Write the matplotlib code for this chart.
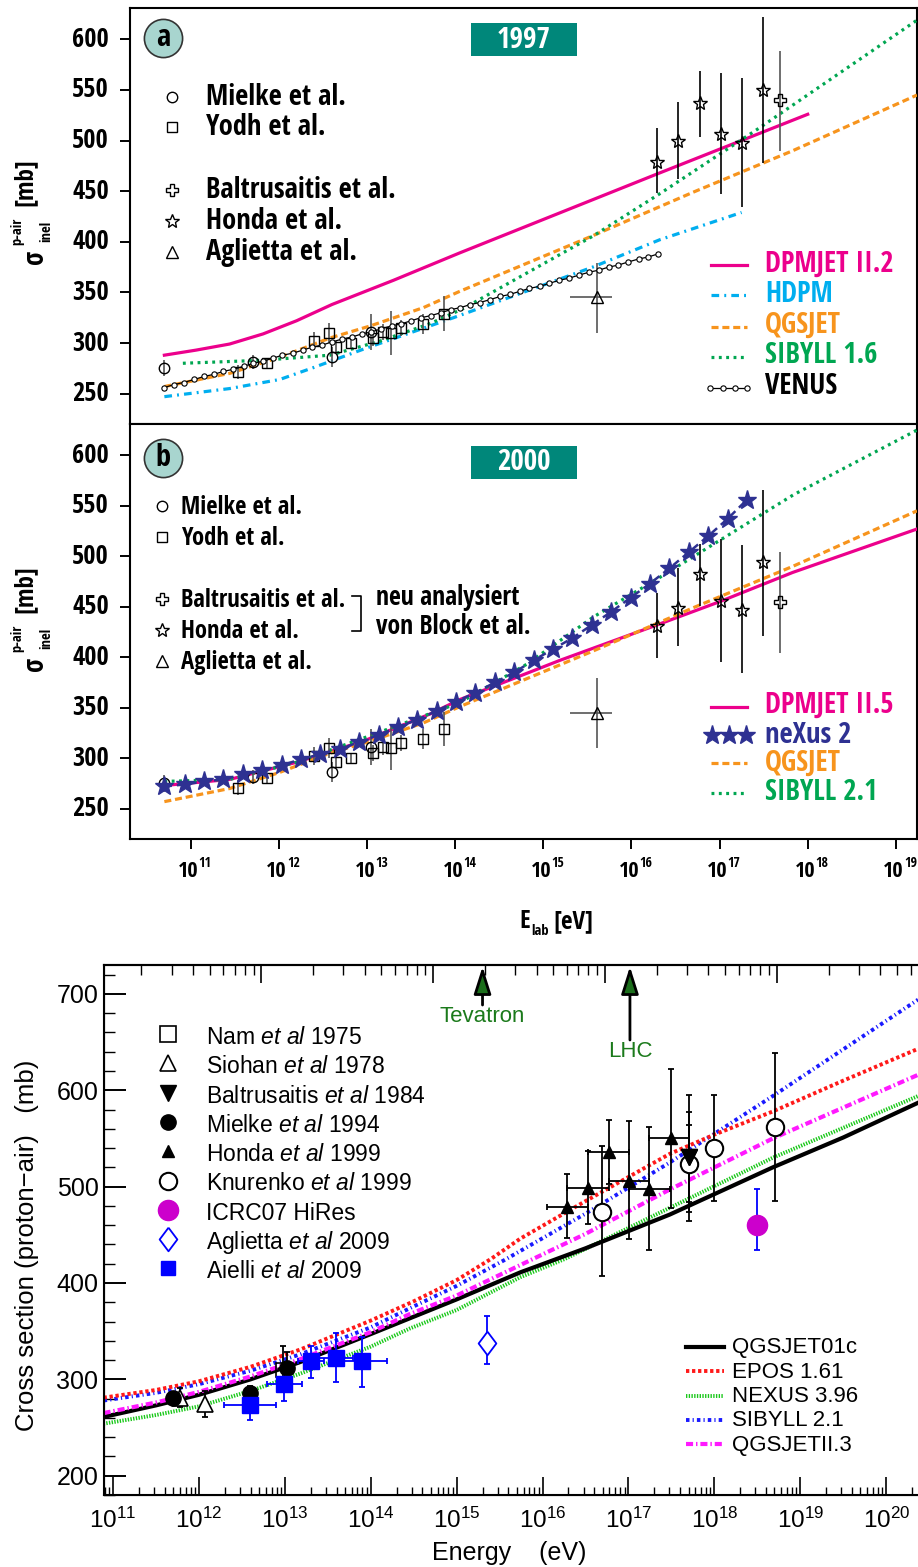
import matplotlib
matplotlib.use('Agg')
import matplotlib.pyplot as plt
import numpy as np
from matplotlib import font_manager
from matplotlib.font_manager import FontProperties
from matplotlib.ft2font import FT2Font
from matplotlib.lines import Line2D
from matplotlib.patches import Rectangle
from matplotlib.ticker import FixedLocator, NullLocator, NullFormatter
from matplotlib.transforms import offset_copy

names = {f.name for f in font_manager.fontManager.ttflist}
SANS = 'Liberation Sans' if 'Liberation Sans' in names else 'DejaVu Sans'

# The upper panels use a narrow bold sans.  Pick the installed bold sans face whose
# width-to-cap-height ratio is closest to a condensed grotesque.
R_TARGET = 7.7  # width of 'Baltrusaitis et al.' over cap height


def measure(fname):
    f = FT2Font(fname)
    if f.get_char_index(0x3c3) == 0 or f.get_char_index(ord('a')) == 0:
        return None
    f.set_size(100, 72)
    f.set_text('Baltrusaitis et al.')
    w = f.get_width_height()[0] / 64.0
    cap = f.load_char(ord('H')).height / 64.0
    if cap <= 0:
        return None
    return w / cap, cap / 100.0


best = None
for fe in font_manager.fontManager.ttflist:
    n = fe.name.lower()
    if fe.style != 'normal' or not fe.fname.lower().endswith(('.ttf', '.otf')):
        continue
    wt = fe.weight if isinstance(fe.weight, int) else font_manager.weight_dict.get(fe.weight, 400)
    if not 600 <= wt <= 800:
        continue
    if not any(k in n for k in ('sans', 'roboto', 'lato', 'inter', 'arial', 'helvet')):
        continue
    if any(k in n for k in ('mono', 'serif', 'cjk', 'symbol', 'math')):
        continue
    try:
        m = measure(fe.fname)
    except Exception:
        m = None
    if m is None:
        continue
    score = abs(np.log(m[0] / R_TARGET))
    if best is None or score < best[0]:
        best = (score, m[0], m[1], fe.fname)

if best is not None:
    CB = FontProperties(fname=best[3])
    CAP, WIDE = best[2], best[1] / R_TARGET
else:
    CB = FontProperties(family=SANS, weight='bold')
    CAP, WIDE = 0.72, 1.45

# shrink factors for labels that have to fit a given width
FIT_TIGHT = min(1.0, 1.04 / WIDE)
FIT_LOOSE = min(1.0, 1.22 / WIDE)


def cb(cap_px, k=1.0):
    # bold narrow font with a given cap height in pixels (figure is drawn at 100 dpi)
    fp = CB.copy()
    fp.set_size(cap_px / CAP * 0.72 * k)
    return fp


plt.rcParams['font.family'] = [SANS, 'DejaVu Sans']
plt.rcParams['mathtext.fontset'] = 'custom'
plt.rcParams['mathtext.rm'] = SANS
plt.rcParams['mathtext.it'] = SANS + ':italic'
plt.rcParams['mathtext.bf'] = SANS + ':bold'

# ------------------------------------------------------------------
# upper panels (a: 1997, b: 2000) -- energies as log10(E_lab / eV)
# ------------------------------------------------------------------
top_decades = [11, 12, 13, 14, 15, 16, 17, 18, 19]
top_yticks = [250, 300, 350, 400, 450, 500, 550, 600]

mielke_lgE = [10.70, 11.70, 12.60, 13.04]
mielke_xs = [275, 281, 286, 311]
mielke_err = [8, 7, 10, 18]

yodh_lgE = [11.53, 11.87, 12.40, 12.57, 12.65, 12.82, 13.07, 13.18, 13.27, 13.38, 13.63, 13.87]
yodh_xs = [271, 280, 302, 310, 296, 300, 305, 311, 310, 315, 319, 329]
yodh_err = [7, 5, 9, 10, 6, 5, 8, 8, 22, 8, 10, 17]

honda_lgE = [16.29, 16.53, 16.78, 17.02, 17.25, 17.49]
honda_a_xs = [479, 500, 537, 507, 498, 550]
honda_a_lo = [448, 462, 504, 447, 434, 478]
honda_a_hi = [512, 538, 569, 567, 562, 622]
honda_b_xs = [431, 449, 482, 456, 447, 494]
honda_b_lo = [399, 411, 451, 395, 384, 421]
honda_b_hi = [464, 488, 512, 517, 511, 566]

balt_lgE = [17.69]
balt_a_xs, balt_a_lo, balt_a_hi = [540], [490], [589]
balt_b_xs, balt_b_lo, balt_b_hi = [455], [404], [504]

agl_lgE = [15.61]
agl_xs, agl_lo, agl_hi = [345], [310], [379]
agl_xlo, agl_xhi = [15.30], [15.78]

dpmjet22_lgE = [10.70, 11.06, 11.44, 11.82, 12.20, 12.60, 13.30, 14.05, 16.29, 18.00]
dpmjet22_xs = [288, 293, 299, 309, 322, 338, 362, 389, 467, 526]

hdpm_lgE = [10.70, 11.44, 12.01, 12.40, 12.96, 13.52, 13.98, 15.56, 16.32, 17.25]
hdpm_xs = [247, 255, 264, 276, 294, 311, 325, 375, 402, 429]

qgsjet_lgE = [10.70, 11.44, 12.01, 12.58, 13.04, 13.64, 14.05, 15.56, 16.70, 17.83, 19.24]
qgsjet_xs = [257, 270, 286, 305, 317, 335, 351, 406, 449, 490, 545]

sibyll16_lgE = [10.91, 11.82, 12.58, 13.15, 13.71, 14.09, 15.57, 16.33, 17.46, 19.24]
sibyll16_xs = [280, 283, 288, 302, 319, 334, 406, 448, 513, 619]

venus_lgE = [10.70, 10.81, 10.92, 11.04, 11.15, 11.26, 11.37, 11.48, 11.60, 11.71,
             11.82, 11.93, 12.04, 12.16, 12.27, 12.38, 12.49, 12.60, 12.72, 12.83,
             12.94, 13.05, 13.16, 13.28, 13.39, 13.50, 13.61, 13.72, 13.84, 13.95,
             14.06, 14.17, 14.28, 14.40, 14.51, 14.62, 14.73, 14.84, 14.96, 15.07,
             15.18, 15.29, 15.40, 15.52, 15.63, 15.74, 15.85, 15.96, 16.08, 16.19, 16.30]
venus_xs = [256, 259, 261, 264, 267, 269, 272, 274, 277, 280,
            282, 285, 288, 290, 293, 296, 298, 301, 304, 306,
            309, 311, 314, 317, 319, 322, 325, 327, 330, 333,
            335, 338, 340, 343, 346, 348, 351, 354, 356, 359,
            362, 364, 367, 370, 372, 375, 377, 380, 383, 385, 388]

dpmjet25_lgE = [10.70, 11.44, 12.20, 12.96, 13.72, 14.05, 15.19, 16.29, 17.00, 17.83, 19.24]
dpmjet25_xs = [273, 279, 296, 317, 344, 358, 397, 432, 455, 484, 527]

sibyll21_lgE = [10.70, 11.44, 12.20, 12.96, 13.71, 14.05, 14.81, 15.57, 16.32, 17.08, 17.84, 19.24]
sibyll21_xs = [277, 279, 296, 320, 344, 355, 393, 440, 479, 520, 561, 625]

nexus2_lgE = [10.70, 10.93, 11.15, 11.37, 11.59, 11.81, 12.03, 12.25, 12.47, 12.69,
              12.91, 13.13, 13.35, 13.57, 13.79, 14.01, 14.23, 14.45, 14.67, 14.89,
              15.11, 15.33, 15.55, 15.77, 15.99, 16.21, 16.43, 16.65, 16.87, 17.09, 17.31]
nexus2_xs = [272, 274, 277, 279, 284, 288, 293, 299, 304, 309,
             316, 323, 331, 338, 347, 356, 365, 375, 385, 397,
             408, 419, 432, 445, 459, 473, 488, 504, 520, 537, 556]

# ------------------------------------------------------------------
# lower panel
# ------------------------------------------------------------------
bot_decades = [11, 12, 13, 14, 15, 16, 17, 18, 19, 20]
bot_yticks = [200, 300, 400, 500, 600, 700]

nam_lgE, nam_xs, nam_lo, nam_hi = [12.975], [310], [290], [335]
siohan_lgE, siohan_xs = [11.78, 12.07], [281, 274]
siohan_lo, siohan_hi = [271, 261], [291, 288]
balt84_lgE, balt84_xs = [17.70], [531]
balt84_lo_in, balt84_hi_in = [474], [577]
balt84_lo_out, balt84_hi_out = [464], [595]
mielke94_lgE, mielke94_xs = [11.695, 12.59, 13.03], [281, 286, 312]
mielke94_err = [5, 7, 16]
honda99_lgE = [16.28, 16.53, 16.77, 17.01, 17.24, 17.49]
honda99_xs = [479, 499, 536, 506, 498, 550]
honda99_lo = [447, 461, 503, 446, 434, 478]
honda99_hi = [513, 537, 569, 568, 562, 622]
honda99_xlo = [16.05, 16.28, 16.53, 16.77, 17.01, 17.24]
honda99_xhi = [16.53, 16.77, 17.01, 17.24, 17.48, 17.70]
knur_lgE, knur_xs = [16.69, 17.70, 18.00, 18.71], [474, 524, 540, 562]
knur_lo, knur_hi = [407, 484, 485, 485], [542, 564, 595, 639]
hires_lgE, hires_xs, hires_lo, hires_hi = [18.50], [460], [434], [498]
agl09_lgE, agl09_xs, agl09_lo, agl09_hi = [15.35], [338], [316], [366]
aielli_lgE = [12.595, 12.99, 13.30, 13.596, 13.895]
aielli_xs = [273, 295, 319, 322, 319]
aielli_lo = [258, 278, 301, 297, 292]
aielli_hi = [288, 313, 335, 348, 344]
aielli_xlo = [12.29, 12.79, 13.15, 13.33, 13.60]
aielli_xhi = [12.90, 13.20, 13.45, 13.79, 14.19]

qgs01c_lgE = [10.89, 11.5, 12.0, 12.6, 13.18, 14.0, 15.0, 15.74, 16.5, 17.48, 18.68, 19.5, 20.37]
qgs01c_xs = [261, 273, 284, 300, 318, 347, 383, 411, 436, 471, 520, 551, 587]
epos_lgE = [10.89, 11.5, 12.0, 12.6, 13.18, 14.0, 14.5, 15.0, 15.4, 15.74, 16.5, 17.48, 18.0,
            18.68, 19.5, 20.37]
epos_xs = [281, 289, 298, 313, 331, 361, 381, 403, 425, 446, 485, 534, 554, 578, 610, 643]
nexus396_lgE = [10.89, 11.5, 12.0, 12.6, 13.18, 14.0, 14.46, 15.0, 15.74, 16.26, 17.48, 18.68,
                20.37]
nexus396_xs = [254, 263, 272, 288, 306, 334, 353, 372, 406, 425, 478, 530, 594]
sib21_lgE = [10.89, 11.5, 12.0, 12.6, 13.18, 14.0, 14.46, 15.0, 15.56, 16.5, 17.48, 18.68, 20.37]
sib21_xs = [278, 286, 295, 309, 326, 354, 374, 397, 424, 472, 525, 594, 694]
qgsII3_lgE = [10.89, 11.5, 12.0, 12.6, 13.18, 14.0, 14.46, 15.0, 15.82, 16.5, 17.48, 18.68, 20.37]
qgsII3_xs = [265, 276, 287, 303, 321, 349, 368, 387, 422, 451, 497, 550, 616]

tevatron_elab = 2.0e15
lhc_elab = 1.04e17
m_proton = 0.938  # GeV

MAG, CYAN, ORANGE, GREEN, NAVY = '#ec008c', '#00aeef', '#f7941d', '#00a651', '#2e3192'
TEAL, TEAL_LIGHT = '#00877a', '#a8d5cf'

W, H = 918, 1567


def fx(x):
    return x / W


def fy(y):
    return 1 - y / H


def E(lg):
    return 10.0 ** np.asarray(lg, dtype=float)


fig = plt.figure(figsize=(W / 100, H / 100), dpi=100)


def fig_line(xs, ys, **kw):
    fig.add_artist(Line2D([fx(v) for v in xs], [fy(v) for v in ys],
                          transform=fig.transFigure, **kw))


def ftext(x, y, s, **kw):
    return fig.text(fx(x), fy(y), s, **kw)


# ---------------- upper two panels ----------------
ax_a = fig.add_axes([fx(130), fy(424), (917 - 130) / W, (424 - 8) / H])
ax_b = fig.add_axes([fx(130), fy(839), (917 - 130) / W, (839 - 424) / H])

for ax in (ax_a, ax_b):
    ax.set_xscale('log')
    ax.set_xlim(10 ** 10.31, 10 ** 19.24)
    ax.set_ylim(220, 631)
    ax.xaxis.set_major_locator(FixedLocator(E(top_decades)))
    ax.xaxis.set_minor_locator(NullLocator())
    ax.xaxis.set_major_formatter(NullFormatter())
    ax.yaxis.set_major_locator(FixedLocator(top_yticks))
    ax.yaxis.set_major_formatter(NullFormatter())
    ax.tick_params(axis='y', direction='out', length=7.2, width=1.4)
    ax.tick_params(axis='x', direction='out', length=7.5, width=1.4)
    for sp in ax.spines.values():
        sp.set_linewidth(1.5)
    # y labels written as plain texts so the narrow face keeps its size
    for v in top_yticks:
        ax.text(-0.0267, v, str(v), transform=ax.get_yaxis_transform(), ha='right',
                va='center', fontproperties=cb(19), clip_on=False)

# decade labels under panel b, written as 10 with a raised exponent
base_tr = ax_b.get_xaxis_transform()
for d in top_decades:
    tr = offset_copy(base_tr, fig=fig, x=8, y=0, units='dots')
    ax_b.text(E(d), (839 - 877) / 415, '10', transform=tr, ha='right', va='baseline',
              fontproperties=cb(16), clip_on=False)
    ax_b.text(E(d), (839 - 867) / 415, str(d), transform=tr, ha='left', va='baseline',
              fontproperties=cb(10), clip_on=False)


def draw_points(ax, lg, xs, lo, hi, marker, ms, ecolor='#555555', xlo=None, xhi=None):
    x = E(lg)
    y = np.asarray(xs, dtype=float)
    yerr = [y - np.asarray(lo, dtype=float), np.asarray(hi, dtype=float) - y]
    xerr = None if xlo is None else [x - E(xlo), E(xhi) - x]
    ax.errorbar(x, y, yerr=yerr, xerr=xerr, fmt='none', ecolor=ecolor,
                elinewidth=1.2, capsize=0, zorder=5)
    ax.plot(x, y, ls='none', marker=marker, ms=ms, mfc='none', mec='black', mew=1.0, zorder=6)


def draw_common_data(ax, honda_xs, honda_lo, honda_hi, balt_xs, balt_lo, balt_hi):
    my = np.asarray(mielke_xs)
    draw_points(ax, mielke_lgE, my, my - mielke_err, my + mielke_err, 'o', 7.5)
    yy = np.asarray(yodh_xs)
    draw_points(ax, yodh_lgE, yy, yy - yodh_err, yy + yodh_err, 's', 7.5)
    draw_points(ax, honda_lgE, honda_xs, honda_lo, honda_hi, '*', 10, ecolor='black')
    draw_points(ax, balt_lgE, balt_xs, balt_lo, balt_hi, 'P', 8.5)
    draw_points(ax, agl_lgE, agl_xs, agl_lo, agl_hi, '^', 9, xlo=agl_xlo, xhi=agl_xhi)


HDPM_DASH = (2.4, 1.6, 0.6, 1.6)
QGS_DASH = (2.2, 1.2)
SIB_DOT = (0.9, 1.4)

# panel a: 1997 models
ax_a.plot(E(dpmjet22_lgE), dpmjet22_xs, color=MAG, lw=2.3, zorder=3)
ax_a.plot(E(hdpm_lgE), hdpm_xs, color=CYAN, lw=2.3, dashes=HDPM_DASH, zorder=3)
ax_a.plot(E(qgsjet_lgE), qgsjet_xs, color=ORANGE, lw=2.3, dashes=QGS_DASH, zorder=3)
ax_a.plot(E(sibyll16_lgE), sibyll16_xs, color=GREEN, lw=2.3, dashes=SIB_DOT, zorder=3)
ax_a.plot(E(venus_lgE), venus_xs, color='black', lw=0.9, marker='o', ms=3.8,
          mfc='white', mec='black', mew=0.8, zorder=7)
draw_common_data(ax_a, honda_a_xs, honda_a_lo, honda_a_hi, balt_a_xs, balt_a_lo, balt_a_hi)

# panel b: 2000 models
ax_b.plot(E(dpmjet25_lgE), dpmjet25_xs, color=MAG, lw=2.3, zorder=3)
ax_b.plot(E(qgsjet_lgE), qgsjet_xs, color=ORANGE, lw=2.3, dashes=QGS_DASH, zorder=3)
ax_b.plot(E(sibyll21_lgE), sibyll21_xs, color=GREEN, lw=2.3, dashes=SIB_DOT, zorder=3)
draw_common_data(ax_b, honda_b_xs, honda_b_lo, honda_b_hi, balt_b_xs, balt_b_lo, balt_b_hi)
ax_b.plot(E(nexus2_lgE), nexus2_xs, color=NAVY, lw=1.8, dashes=(3, 2), marker='*', ms=14,
          mfc=NAVY, mec=NAVY, zorder=8)

# panel badges, year boxes and y labels
for cy, letter, year, by in [(38, 'a', '1997', 23), (458, 'b', '2000', 446)]:
    fig_line([163], [cy], marker='o', ms=27.5, mfc=TEAL_LIGHT, mec='#333333', mew=1.2, ls='none')
    ftext(163, cy, letter, ha='center', va='center', fontproperties=cb(22))
    fig.add_artist(Rectangle((fx(471), fy(by + 33)), 106 / W, 33 / H, transform=fig.transFigure,
                             facecolor=TEAL, edgecolor='none'))
    ftext(524, by + 17, year, ha='center', va='center', color='white', fontproperties=cb(21))

for y0 in (257, 664):
    ftext(35, y0, '\u03c3', rotation=90, ha='center', va='center', fontproperties=cb(20))
    ftext(17, y0 - 26, 'p-air', rotation=90, ha='center', va='center', fontproperties=cb(10.5))
    ftext(46, y0 - 26, 'inel', rotation=90, ha='center', va='center', fontproperties=cb(10.5))
    ftext(25, y0 - 75, '[mb]', rotation=90, ha='center', va='center', fontproperties=cb(18))

ftext(530, 928, 'E', ha='right', va='baseline', fontproperties=cb(18))
ftext(531, 935, 'lab', ha='left', va='baseline', fontproperties=cb(10.5))
ftext(553, 928, '[eV]', ha='left', va='baseline', fontproperties=cb(18))

# data legends of the upper panels
data_keys = [('Mielke et al.', 'o', 7.5), ('Yodh et al.', 's', 7.5), (None, None, None),
             ('Baltrusaitis et al.', 'P', 8.5), ('Honda et al.', '*', 10), ('Aglietta et al.', '^', 9)]
for mx, tx, rows, fit in [(172, 206, [97, 127, None, 190, 221, 252], FIT_LOOSE),
                          (162, 181, [506, 537, None, 599, 630, 661], FIT_TIGHT)]:
    for (label, mk, ms), ry in zip(data_keys, rows):
        if label is None:
            continue
        fig_line([mx], [ry], marker=mk, ms=ms, mfc='none', mec='black', mew=1.0, ls='none')
        ftext(tx, ry + 8, label, va='baseline', fontproperties=cb(20.5, fit))

fig_line([352, 361, 361, 352], [596, 596, 631, 631], color='black', lw=1.2)
ftext(376, 605, 'neu analysiert', va='baseline', fontproperties=cb(18.5, FIT_LOOSE))
ftext(376, 634, 'von Block et al.', va='baseline', fontproperties=cb(18.5, FIT_LOOSE))

# model legends of the upper panels
fig_line([711, 747], [265, 265], color=MAG, lw=2.3)
fig_line([711, 747], [295, 295], color=CYAN, lw=2.3, dashes=HDPM_DASH)
fig_line([711, 747], [327, 327], color=ORANGE, lw=2.3, dashes=QGS_DASH)
fig_line([711, 747], [357, 357], color=GREEN, lw=2.3, dashes=SIB_DOT)
fig_line([710, 723, 735, 747], [388] * 4, color='black', lw=0.9, marker='o', ms=3.8,
         mfc='white', mec='black', mew=0.8)
for label, color, base in [('DPMJET II.2', MAG, 272), ('HDPM', CYAN, 302), ('QGSJET', ORANGE, 333),
                           ('SIBYLL 1.6', GREEN, 363), ('VENUS', 'black', 394)]:
    ftext(765, base, label, color=color, va='baseline', fontproperties=cb(20.5, FIT_LOOSE))

fig_line([711, 747], [707, 707], color=MAG, lw=2.3)
fig_line([712, 729, 746], [735] * 3, ls='none', marker='*', ms=14, mfc=NAVY, mec=NAVY)
fig_line([711, 747], [763, 763], color=ORANGE, lw=2.3, dashes=QGS_DASH)
fig_line([711, 747], [793, 793], color=GREEN, lw=2.3, dashes=SIB_DOT)
for label, color, base in [('DPMJET II.5', MAG, 713), ('neXus 2', NAVY, 743), ('QGSJET', ORANGE, 771),
                           ('SIBYLL 2.1', GREEN, 800)]:
    ftext(765, base, label, color=color, va='baseline', fontproperties=cb(20.5, FIT_LOOSE))

# ---------------- lower panel ----------------
ax_c = fig.add_axes([fx(104), fy(1495), (918 - 104) / W, (1495 - 965) / H])
ax_c.set_xscale('log')
ax_c.set_xlim(10 ** 10.895, 10 ** 20.37)
ax_c.set_ylim(180, 730)
ax_c.spines['right'].set_visible(False)
for sp in ax_c.spines.values():
    sp.set_linewidth(1.5)

ax_c.set_xticks(E(bot_decades))
ax_c.set_xticklabels([r'$\mathrm{10^{%d}}$' % d for d in bot_decades], fontsize=17.5)
minor_e = [m * 10.0 ** p for p in range(10, 21) for m in range(2, 10)]
ax_c.xaxis.set_minor_locator(FixedLocator(minor_e))
ax_c.xaxis.set_minor_formatter(NullFormatter())
ax_c.set_yticks(bot_yticks)
ax_c.set_yticklabels([str(v) for v in bot_yticks], fontsize=18)
ax_c.yaxis.set_minor_locator(FixedLocator([v for v in range(180, 731, 20) if v % 100]))
ax_c.tick_params(axis='x', which='major', direction='in', length=13, width=1.2, pad=9, top=False)
ax_c.tick_params(axis='x', which='minor', direction='in', length=6, width=1.0, top=False)
ax_c.tick_params(axis='y', which='major', direction='in', length=16, width=1.4, pad=4, right=False)
ax_c.tick_params(axis='y', which='minor', direction='in', length=8, width=1.0, right=False)

# top axis: centre-of-mass energy sqrt(s) in GeV
ax_t = ax_c.twiny()
ax_t.set_xscale('log')
ax_t.set_xlim(ax_c.get_xlim())
ax_t.spines['right'].set_visible(False)
ax_t.spines['top'].set_linewidth(1.5)
sqrt_s_major = [1e2, 1e3, 1e4, 1e5]
sqrt_s_minor = [m * 10.0 ** p for p in range(1, 6) for m in range(2, 10)]
ax_t.xaxis.set_major_locator(FixedLocator([s ** 2 / (2 * m_proton) * 1e9 for s in sqrt_s_major]))
ax_t.xaxis.set_minor_locator(FixedLocator([s ** 2 / (2 * m_proton) * 1e9 for s in sqrt_s_minor]))
ax_t.xaxis.set_major_formatter(NullFormatter())
ax_t.xaxis.set_minor_formatter(NullFormatter())
ax_t.tick_params(axis='x', which='major', direction='in', length=13, width=1.2)
ax_t.tick_params(axis='x', which='minor', direction='in', length=7, width=1.0)

EPOS_DASH = (0.85, 0.7)
NEXUS_DASH = (0.35, 0.35)
SIB_DASH = (0.9, 0.8, 0.3, 0.8)
QII_DASH = (1.7, 0.7, 0.35, 0.7)
ax_c.plot(E(nexus396_lgE), nexus396_xs, color='#19c819', lw=2.8, dashes=NEXUS_DASH, zorder=2)
ax_c.plot(E(qgs01c_lgE), qgs01c_xs, color='black', lw=3.0, zorder=3)
ax_c.plot(E(qgsII3_lgE), qgsII3_xs, color='#ff19ff', lw=3.0, dashes=QII_DASH, zorder=3)
ax_c.plot(E(sib21_lgE), sib21_xs, color='#1919ff', lw=2.8, dashes=SIB_DASH, zorder=3)
ax_c.plot(E(epos_lgE), epos_xs, color='#ff1919', lw=2.8, dashes=EPOS_DASH, zorder=3)


def bottom_points(lg, xs, lo, hi, color='black', xlo=None, xhi=None, **mk):
    x = E(lg)
    y = np.asarray(xs, dtype=float)
    yerr = [y - np.asarray(lo, dtype=float), np.asarray(hi, dtype=float) - y]
    xerr = None if xlo is None else [x - E(xlo), E(xhi) - x]
    ax_c.errorbar(x, y, yerr=yerr, xerr=xerr, fmt='none', ecolor=color, elinewidth=1.3,
                  capsize=2, capthick=1.3, zorder=5)
    ax_c.plot(x, y, ls='none', zorder=6, **mk)


DIAMOND = [(0, 1), (0.75, 0), (0, -1), (-0.75, 0), (0, 1)]
my94 = np.asarray(mielke94_xs)
bottom_points(nam_lgE, nam_xs, nam_lo, nam_hi, marker='s', ms=10, mfc='none', mec='black', mew=1.2)
bottom_points(siohan_lgE, siohan_xs, siohan_lo, siohan_hi, marker='^', ms=11, mfc='white',
              mec='black', mew=1.2)
bottom_points(mielke94_lgE, my94, my94 - mielke94_err, my94 + mielke94_err, marker='o', ms=11,
              mfc='black', mec='black')
bottom_points(aielli_lgE, aielli_xs, aielli_lo, aielli_hi, color='#0000ff', xlo=aielli_xlo,
              xhi=aielli_xhi, marker='s', ms=11, mfc='#0000ff', mec='#0000ff')
bottom_points(agl09_lgE, agl09_xs, agl09_lo, agl09_hi, color='#0000ff', marker=DIAMOND, ms=17,
              mfc='white', mec='#0000ff', mew=1.3)
bottom_points(knur_lgE, knur_xs, knur_lo, knur_hi, marker='o', ms=12.5, mfc='white', mec='black',
              mew=1.5)
bottom_points(honda99_lgE, honda99_xs, honda99_lo, honda99_hi, xlo=honda99_xlo, xhi=honda99_xhi,
              marker='^', ms=9, mfc='black', mec='black')
bottom_points(balt84_lgE, balt84_xs, balt84_lo_out, balt84_hi_out, marker='v', ms=12,
              mfc='black', mec='black')
bottom_points(balt84_lgE, balt84_xs, balt84_lo_in, balt84_hi_in, marker='v', ms=12,
              mfc='black', mec='black')
bottom_points(hires_lgE, hires_xs, hires_lo, hires_hi, color='#0000ff', marker='o', ms=14.5,
              mfc='#cc00cc', mec='#cc00cc')

# accelerator markers
for e_lab, tail, label, ly in [(tevatron_elab, 0.9245, 'Tevatron', 0.902),
                               (lhc_elab, 0.8585, 'LHC', 0.836)]:
    ax_c.annotate('', xy=(e_lab, 0.997), xytext=(e_lab, tail),
                  xycoords=('data', 'axes fraction'), textcoords=('data', 'axes fraction'),
                  arrowprops=dict(arrowstyle='-|>,head_length=1.2,head_width=0.38', mutation_scale=14,
                                  fc='#1b6e1b', ec='black', lw=2.0, shrinkA=0, shrinkB=0))
    ax_c.text(e_lab, ly, label, transform=ax_c.get_xaxis_transform(), ha='center', va='center',
              color='#1b7a1b', fontsize=16)

# lower legends
keys = [(r'Nam $\mathit{et\ al}$ 1975', dict(marker='s', ms=11, mfc='none', mec='black', mew=1.2)),
        (r'Siohan $\mathit{et\ al}$ 1978', dict(marker='^', ms=11, mfc='none', mec='black', mew=1.2)),
        (r'Baltrusaitis $\mathit{et\ al}$ 1984', dict(marker='v', ms=12, mfc='black', mec='black')),
        (r'Mielke $\mathit{et\ al}$ 1994', dict(marker='o', ms=11, mfc='black', mec='black')),
        (r'Honda $\mathit{et\ al}$ 1999', dict(marker='^', ms=8, mfc='black', mec='black')),
        (r'Knurenko $\mathit{et\ al}$ 1999', dict(marker='o', ms=12.5, mfc='none', mec='black', mew=1.5)),
        ('ICRC07 HiRes', dict(marker='o', ms=14.5, mfc='#cc00cc', mec='#cc00cc')),
        (r'Aglietta $\mathit{et\ al}$ 2009', dict(marker=DIAMOND, ms=17, mfc='none', mec='#0000ff', mew=1.3)),
        (r'Aielli $\mathit{et\ al}$ 2009', dict(marker='s', ms=10, mfc='#0000ff', mec='#0000ff'))]
for i, (label, mk) in enumerate(keys):
    ry = 1034 + 29.3 * i
    fig_line([168], [ry], ls='none', **mk)
    ftext(206, ry + 10, label, va='baseline', fontsize=16.5)

models = [('QGSJET01c', dict(color='black', lw=3.0)),
          ('EPOS 1.61', dict(color='#ff1919', lw=2.8, dashes=EPOS_DASH)),
          ('NEXUS 3.96', dict(color='#19c819', lw=2.8, dashes=NEXUS_DASH)),
          ('SIBYLL 2.1', dict(color='#1919ff', lw=2.8, dashes=SIB_DASH)),
          ('QGSJETII.3', dict(color='#ff19ff', lw=3.0, dashes=QII_DASH))]
for i, (label, st) in enumerate(models):
    ry = 1347 + 24.3 * i
    fig_line([686, 724], [ry, ry], **st)
    ftext(732, ry + 1, label, va='center', fontsize=16)

ftext(27, 1245, 'Cross section (proton\u2212air)   (mb)', rotation=90, ha='center', va='center',
      fontsize=18.5)
ftext(509, 1553, 'Energy    (eV)', ha='center', va='center', fontsize=18)

fig.savefig('out.png', dpi=100)
